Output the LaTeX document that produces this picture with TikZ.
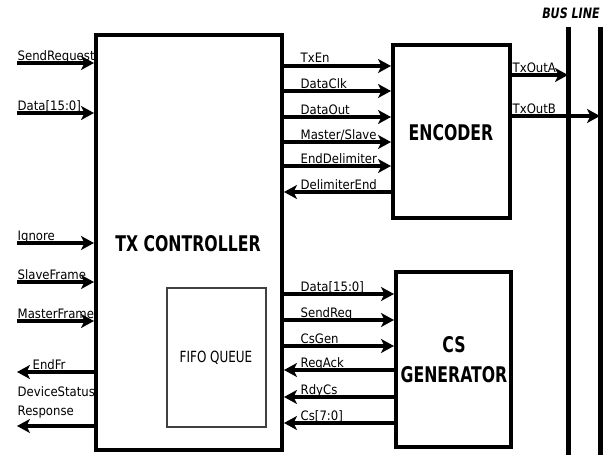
\documentclass[tikz,border=0pt]{standalone}
\usepackage{fontspec}
\setmainfont{DejaVu Sans Condensed}[BoldFont={DejaVu Sans Condensed Bold},ItalicFont={DejaVu Sans Condensed Oblique},BoldItalicFont={DejaVu Sans Condensed Bold Oblique}]
\usetikzlibrary{arrows.meta}
\newcommand{\tall}[1]{\scalebox{0.97}[1.2]{#1}}
\begin{document}
\begin{tikzpicture}[x=1pt,y=-1pt,
  blk/.style={draw,line width=4pt,inner sep=0pt},
  fifo/.style={draw=black!75,line width=1.5pt,inner sep=0pt},
  sig/.style={line width=3.5pt,-{Stealth[length=13pt,width=14pt,inset=3.5pt]}},
  lbl/.style={anchor=base west,inner sep=0.5pt,font=\fontsize{13}{14}\selectfont},
  title/.style={font=\fontsize{18}{20}\selectfont\bfseries},
  bus/.style={line width=5pt}]
\useasboundingbox (0,0) rectangle (614,455);
% blocks
\node[blk,minimum width=186pt,minimum height=415pt] (tx) at (189,242.5) {};
\node[blk,minimum width=117pt,minimum height=173pt] (enc) at (451.5,131.5) {};
\node[blk,minimum width=115pt,minimum height=175pt] (csg) at (453.5,359.5) {};
\node[fifo,minimum width=99pt,minimum height=139pt] (ff) at (216.5,357.5) {};
\node[title] (txt) at (188,244) {\tall{TX CONTROLLER}};
\node[title] (enct) at (451,133) {\tall{ENCODER}};
\node[title] (csgt1) at (454,345) {\tall{CS}};
\node[title] (csgt2) at (454,375) {\tall{GENERATOR}};
\node[font=\fontsize{14}{15}\selectfont] (fft) at (216,358) {\scalebox{0.95}[1.1]{FIFO QUEUE}};
% bus lines
\coordinate (ba1) at (568,27); \coordinate (ba2) at (568,455);
\coordinate (bb1) at (600,27); \coordinate (bb2) at (600,455);
\draw[bus] (ba1) -- (ba2);
\draw[bus] (bb1) -- (bb2);
\node[font=\fontsize{13}{14}\selectfont\bfseries\itshape] (busl) at (571,13) {\scalebox{0.95}[1.1]{BUS LINE}};
% left inputs
\foreach \n/\y/\t in {sr/63/SendRequest,dt/113/{Data[15:0]},ig/243/Ignore,sf/282/SlaveFrame,mf/321/MasterFrame}{
  \coordinate (\n) at (17,\y);
  \draw[sig] (\n) -- (tx.west |- \n);
  \node[lbl] (\n l) at (17,\y-3) {\t};
}
% left outputs
\coordinate (ef) at (17,372);
\draw[sig] (tx.west |- ef) -- (ef);
\node[lbl] (efl) at (32,369) {EndFr};
\coordinate (rs) at (17,426);
\draw[sig] (tx.west |- rs) -- (rs);
\node[lbl] (dsl) at (17,396) {DeviceStatus};
\node[lbl] (rsl) at (17,415) {Response};
% encoder signals
\foreach \n/\y/\t in {te/66/TxEn,dc/91/DataClk,do/117/DataOut,ms/142/{Master/Slave},ed/166/EndDelimiter}{
  \coordinate (\n) at (tx.east |- 0,\y);
  \draw[sig] (\n) -- (enc.west |- \n);
  \node[lbl] (\n l) at (300,\y-3) {\t};
}
\coordinate (de) at (enc.west |- 0,192);
\draw[sig] (de) -- (tx.east |- de);
\node[lbl] (del) at (300,189) {DelimiterEnd};
% cs signals
\foreach \n/\y/\t in {cd/294/{Data[15:0]},sq/320/SendReq,cg/346/CsGen}{
  \coordinate (\n) at (tx.east |- 0,\y);
  \draw[sig] (\n) -- (csg.west |- \n);
  \node[lbl] (\n l) at (300,\y-3) {\t};
}
\foreach \n/\y/\t in {ra/370/ReqAck,rc/397/RdyCs,cs/423/{Cs[7:0]}}{
  \coordinate (\n) at (csg.west |- 0,\y);
  \draw[sig] (\n) -- (tx.east |- \n);
  \node[lbl] (\n l) at (300,\y-3) {\t};
}
% bus outputs
\coordinate (oa) at (enc.east |- 0,75);
\draw[sig] (oa) -- (ba1 |- oa);
\node[lbl] (oal) at (512,72) {TxOutA};
\coordinate (ob) at (enc.east |- 0,116);
\draw[sig] (ob) -- (bb1 |- ob);
\node[lbl] (obl) at (512,113) {TxOutB};
\end{tikzpicture}
\end{document}
